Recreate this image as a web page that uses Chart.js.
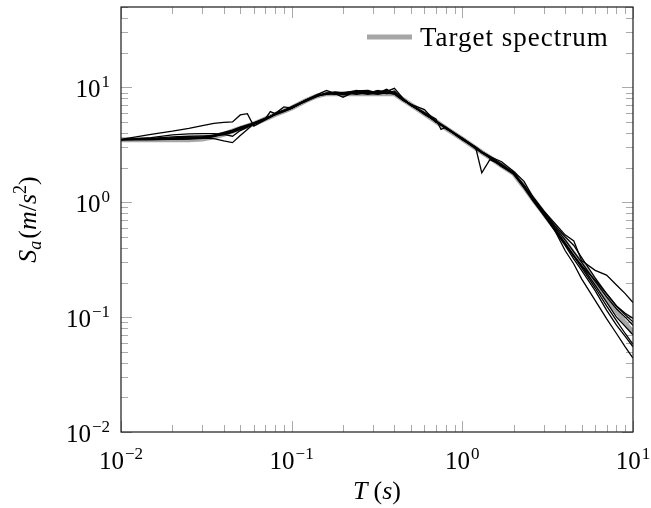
<!DOCTYPE html>
<html>
<head>
<meta charset="utf-8">
<script src="https://cdn.jsdelivr.net/npm/chart.js@4.4.0/dist/chart.umd.min.js"></script>
<style>
  html, body { margin: 0; padding: 0; background: #fff; }
</style>
</head>
<body>
<canvas id="chart" width="651" height="508"></canvas>
<script>
// periods T (s) shared by every spectrum
const periods = [0.01, 0.015, 0.02, 0.025, 0.03, 0.035, 0.04, 0.045, 0.05, 0.055,
                 0.06, 0.07, 0.075, 0.08, 0.09, 0.1, 0.12, 0.14, 0.16, 0.18,
                 0.2, 0.24, 0.28, 0.32, 0.36, 0.4, 0.45, 0.5, 0.6, 0.7,
                 0.75, 0.8, 1.0, 1.2, 1.3, 1.45, 1.7, 2.0, 2.3, 2.6,
                 3.0, 3.5, 4.0, 4.5, 5.0, 6.0, 7.0, 8.0, 9.0, 10];

// target spectrum Sa (m/s2)
const target = [3.5, 3.5, 3.5, 3.5, 3.55, 3.7, 3.9, 4.15, 4.4, 4.6,
                4.8, 5.3, 5.55, 5.8, 6.2, 6.6, 7.6, 8.4, 8.8, 8.8,
                8.8, 8.8, 8.8, 8.8, 8.8, 8.8, 7.8, 7.05, 5.9, 5.05,
                4.7, 4.4, 3.55, 2.95, 2.72, 2.45, 2.08, 1.78, 1.36, 1.06,
                0.8, 0.59, 0.45, 0.355, 0.288, 0.2, 0.147, 0.113, 0.089, 0.073];

// matched record spectra
const rec1 = [3.52, 3.9, 4.15, 4.4, 4.65, 4.85, 4.95, 5.0, 5.75, 5.9,
              4.6, 5.2, 5.5, 5.9, 6.3, 6.7, 7.5, 8.3, 8.9, 8.7,
              8.9, 9.0, 8.7, 9.0, 8.8, 8.9, 7.9, 7.0, 6.0, 5.0,
              4.75, 4.4, 3.6, 3.0, 2.75, 2.5, 2.1, 1.75, 1.38, 1.1,
              0.82, 0.6, 0.47, 0.37, 0.3, 0.205, 0.15, 0.118, 0.1, 0.085];
const rec2 = [3.5, 3.55, 3.6, 3.62, 3.62, 3.58, 3.42, 3.3, 3.8, 4.3,
              4.85, 5.3, 6.15, 5.9, 6.75, 6.6, 7.7, 8.5, 8.7, 8.9,
              8.7, 9.1, 8.9, 8.7, 9.0, 8.7, 7.7, 7.1, 5.8, 5.1,
              4.7, 4.45, 3.5, 3.0, 2.7, 2.45, 2.1, 1.8, 1.4, 1.1,
              0.84, 0.65, 0.52, 0.46, 0.31, 0.255, 0.232, 0.19, 0.16, 0.134];
const rec3 = [3.5, 3.65, 3.85, 3.93, 3.96, 3.95, 3.9, 3.75, 4.2, 4.5,
              4.9, 5.4, 5.6, 5.9, 6.3, 6.8, 7.7, 8.6, 9.4, 8.8,
              8.2, 9.3, 9.4, 8.9, 9.4, 9.0, 7.9, 7.0, 6.0, 5.1,
              4.8, 4.5, 3.6, 3.0, 2.75, 2.5, 2.15, 1.8, 1.4, 1.05,
              0.8, 0.58, 0.43, 0.34, 0.28, 0.21, 0.16, 0.125, 0.108, 0.0975];
const rec4 = [3.5, 3.52, 3.55, 3.58, 3.62, 3.75, 3.95, 4.2, 4.45, 4.65,
              4.85, 5.35, 5.6, 5.85, 6.25, 6.65, 7.6, 8.4, 8.9, 8.9,
              9.0, 8.7, 9.0, 9.2, 8.9, 9.3, 7.8, 7.1, 5.9, 5.1,
              4.75, 4.35, 3.6, 2.95, 1.8, 2.35, 2.1, 1.78, 1.35, 1.05,
              0.8, 0.56, 0.38, 0.29, 0.215, 0.14, 0.097, 0.072, 0.055, 0.044];
const rec5 = [3.5, 3.5, 3.52, 3.55, 3.6, 3.72, 3.92, 4.1, 4.35, 4.6,
              4.8, 5.25, 5.5, 5.75, 6.15, 6.55, 7.65, 8.5, 8.8, 9.1,
              8.9, 9.4, 9.0, 9.3, 9.2, 9.8, 8.0, 7.0, 6.0, 5.3,
              4.3, 4.5, 3.55, 2.95, 2.7, 2.45, 2.05, 1.75, 1.33, 1.02,
              0.78, 0.57, 0.44, 0.34, 0.27, 0.18, 0.125, 0.093, 0.072, 0.058];
const rec6 = [3.5, 3.6, 3.7, 3.75, 3.78, 3.8, 3.85, 4.05, 4.3, 4.55,
              4.75, 5.25, 5.55, 5.8, 6.2, 6.6, 7.55, 8.45, 8.7, 8.9,
              8.8, 8.9, 9.3, 8.8, 9.5, 8.9, 7.7, 7.1, 6.4, 5.0,
              4.7, 4.45, 3.6, 2.98, 2.75, 2.5, 2.25, 1.85, 1.52, 1.1,
              0.83, 0.62, 0.5, 0.42, 0.33, 0.22, 0.16, 0.125, 0.105, 0.091];
const rec7 = [3.5, 3.55, 3.62, 3.68, 3.72, 3.8, 3.98, 4.2, 4.45, 4.62,
              4.82, 5.3, 5.6, 5.85, 6.3, 6.6, 7.6, 8.35, 8.9, 8.7,
              9.0, 9.2, 8.8, 9.4, 8.9, 9.0, 7.85, 7.0, 5.95, 5.0,
              4.72, 4.42, 3.5, 2.95, 2.72, 2.42, 2.05, 1.8, 1.37, 1.08,
              0.79, 0.58, 0.44, 0.345, 0.28, 0.19, 0.135, 0.1, 0.083, 0.07];
const rec8 = [3.5, 3.5, 3.55, 3.6, 3.68, 3.85, 4.05, 4.25, 4.5, 4.7,
              4.9, 5.35, 5.6, 5.9, 6.25, 6.7, 7.7, 8.5, 8.8, 9.0,
              8.6, 9.0, 9.2, 8.9, 9.6, 8.8, 7.75, 6.95, 5.9, 5.05,
              4.68, 4.4, 3.55, 2.9, 2.7, 2.45, 2.1, 1.8, 1.36, 1.03,
              0.77, 0.56, 0.42, 0.32, 0.255, 0.17, 0.115, 0.085, 0.068, 0.055];
const records = [rec1, rec2, rec3, rec4, rec5, rec6, rec7, rec8];

// axis ticks and labels (base, exponent)
const xMajor = [0.01, 0.1, 1, 10];
const xLabels = [['10', '\u22122'], ['10', '\u22121'], ['10', '0'], ['10', '1']];
const yMajor = [0.01, 0.1, 1, 10];
const yLabels = [['10', '\u22122'], ['10', '\u22121'], ['10', '0'], ['10', '1']];

const SERIF = '"Liberation Serif", "DejaVu Serif", serif';
const GRAY = '#a6a6a6';

function pairs(ys) {
  return periods.map((t, i) => ({ x: t, y: ys[i] }));
}

function runsWidth(ctx, runs) {
  let w = 0;
  for (const r of runs) { ctx.font = r.font; w += ctx.measureText(r.text).width + (r.gap || 0); }
  return w;
}
function drawRuns(ctx, runs, x, y, align) {
  const w = runsWidth(ctx, runs);
  let cx = align === 'center' ? x - w / 2 : align === 'right' ? x - w : x;
  for (const r of runs) {
    ctx.font = r.font;
    ctx.fillText(r.text, cx, y + (r.dy || 0));
    cx += ctx.measureText(r.text).width + (r.gap || 0);
  }
}
function labelRuns(lab) {
  return [{ text: lab[0], font: '25px ' + SERIF, gap: 1 },
          { text: lab[1], font: '17px ' + SERIF, dy: -10 }];
}

function logTicks(min, max) {
  const out = [];
  for (let e = Math.floor(Math.log10(min)); e <= Math.ceil(Math.log10(max)); e++) {
    for (let k = 1; k <= 9; k++) {
      const v = k * Math.pow(10, e);
      if (v >= min * 0.999 && v <= max * 1.001) out.push({ v: v, major: k === 1 });
    }
  }
  return out;
}

const pgfAxes = {
  id: 'pgfAxes',
  beforeDatasetsDraw(chart) {
    const { ctx, chartArea: a, scales } = chart;
    ctx.save();
    ctx.strokeStyle = '#aaaaaa';
    ctx.lineWidth = 1;
    ctx.beginPath();
    for (const t of logTicks(scales.x.min, scales.x.max)) {
      const px = Math.round(scales.x.getPixelForValue(t.v)) + 0.5;
      const len = t.major ? 11 : 7;
      ctx.moveTo(px, a.bottom); ctx.lineTo(px, a.bottom - len);
      ctx.moveTo(px, a.top); ctx.lineTo(px, a.top + len);
    }
    for (const t of logTicks(scales.y.min, scales.y.max)) {
      const py = Math.round(scales.y.getPixelForValue(t.v)) + 0.5;
      const len = t.major ? 11 : 7;
      ctx.moveTo(a.left, py); ctx.lineTo(a.left + len, py);
      ctx.moveTo(a.right, py); ctx.lineTo(a.right - len, py);
    }
    ctx.stroke();
    ctx.restore();
  },
  afterDatasetsDraw(chart) {
    const { ctx, chartArea: a, scales } = chart;
    ctx.save();
    // frame
    ctx.strokeStyle = '#1a1a1a';
    ctx.lineWidth = 1.2;
    ctx.strokeRect(a.left, a.top, a.right - a.left, a.bottom - a.top);

    ctx.fillStyle = '#000';
    ctx.textBaseline = 'alphabetic';
    // x tick labels
    xMajor.forEach((v, i) => {
      drawRuns(ctx, labelRuns(xLabels[i]), scales.x.getPixelForValue(v), a.bottom + 37, 'center');
    });
    // y tick labels
    yMajor.forEach((v, i) => {
      drawRuns(ctx, labelRuns(yLabels[i]), a.left - 11, scales.y.getPixelForValue(v) + 10, 'right');
    });

    // x title: T (s)
    const it = 'italic 26px ' + SERIF, up = '26px ' + SERIF;
    drawRuns(ctx, [{ text: 'T', font: it, gap: 6 }, { text: '(', font: up },
                   { text: 's', font: it }, { text: ')', font: up }],
             (a.left + a.right) / 2, 499, 'center');

    // y title: Sa (m/s^2)
    ctx.save();
    ctx.translate(36, (a.top + a.bottom) / 2);
    ctx.rotate(-Math.PI / 2);
    drawRuns(ctx, [{ text: 'S', font: it }, { text: 'a', font: 'italic 18px ' + SERIF, dy: 5, gap: 2 },
                   { text: '(', font: up }, { text: 'm', font: it }, { text: '/', font: up },
                   { text: 's', font: it }, { text: '2', font: '18px ' + SERIF, dy: -10 },
                   { text: ')', font: up }], 0, 0, 'center');
    ctx.restore();

    // legend
    ctx.strokeStyle = GRAY;
    ctx.lineWidth = 5;
    ctx.beginPath();
    ctx.moveTo(367, 37); ctx.lineTo(412, 37);
    ctx.stroke();
    ctx.font = '27px ' + SERIF;
    ctx.letterSpacing = '1px';
    ctx.fillText('Target spectrum', 420, 46);
    ctx.letterSpacing = '0px';
    ctx.restore();
  }
};

const datasets = records.map(r => ({
  data: pairs(r),
  borderColor: '#000',
  borderWidth: 1.3,
  order: 0
}));
datasets.push({
  data: pairs(target),
  borderColor: GRAY,
  borderWidth: 5,
  order: 1
});

const ctx = document.getElementById('chart');
new Chart(ctx, {
  type: 'scatter',
  data: { datasets: datasets },
  options: {
    responsive: false,
    animation: false,
    showLine: true,
    layout: { padding: { left: 121, top: 7, right: 18, bottom: 76 } },
    elements: { point: { radius: 0 }, line: { tension: 0, fill: false } },
    scales: {
      x: { type: 'logarithmic', min: 0.01, max: 10, display: false },
      y: { type: 'logarithmic', min: 0.01, max: 50, display: false }
    },
    plugins: { legend: { display: false }, tooltip: { enabled: false } }
  },
  plugins: [pgfAxes]
});
</script>
</body>
</html>
